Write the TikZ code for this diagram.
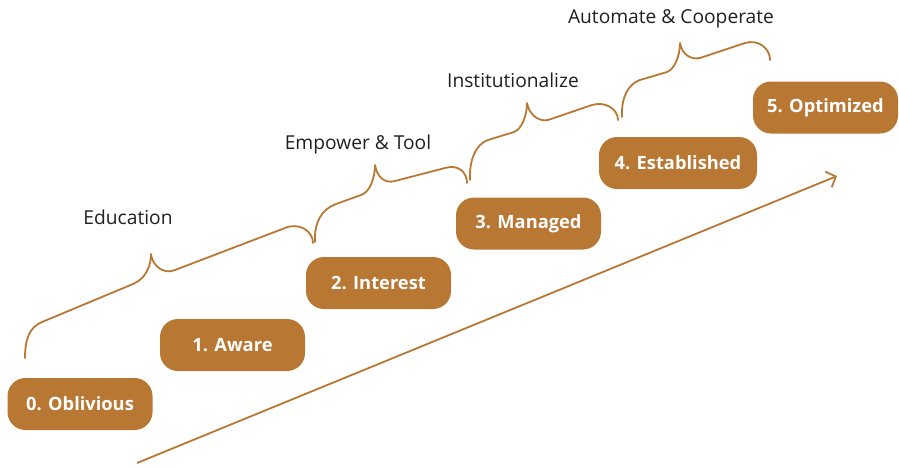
\documentclass[tikz,border=0pt]{standalone}
\usepackage{fontspec}
\setmainfont{Open Sans}
\usetikzlibrary{arrows.meta}
\definecolor{rust}{RGB}{184,119,51}
\definecolor{labelgray}{RGB}{35,31,32}
\tikzset{
  stage/.style={fill=rust, draw=none, rounded corners=18pt, minimum width=145pt, minimum height=52pt,
    text=white, font=\fontsize{18.3}{22}\selectfont\bfseries, inner sep=0pt},
  phase/.style={text=labelgray, font=\fontsize{19.2}{22}\selectfont, anchor=base, inner sep=0pt},
  bracecurve/.style={draw=rust, line width=1.8pt, line cap=round, line join=round},
  growth/.style={draw=rust, line width=1.8pt, -{Straight Barb[length=8pt,width=17pt,line width=1.8pt]}}
}
\begin{document}
\begin{tikzpicture}[x=1pt, y=-1pt]
\useasboundingbox (0,0) rectangle (899,467);
% stages
\node[stage] (s0) at (80,404) {0. Oblivious};
\node[stage] (s1) at (232.5,345) {1. Aware};
\node[stage] (s2) at (378.5,283) {2. Interest};
\node[stage] (s3) at (528.5,223.5) {3. Managed};
\node[stage, minimum width=158pt] (s4) at (678,163) {4. Established};
\node[stage] (s5) at (825.5,107.5) {5. Optimized};
% phase labels
\node[phase] (l1) at (128,224) {Education};
\node[phase] (l2) at (358,149) {Empower \& Tool};
\node[phase] (l3) at (513,87) {Institutionalize};
\node[phase] (l4) at (671,23) {Automate \& Cooperate};
% braces
\draw[bracecurve] (25,358) .. controls (25,338) and (30,327) .. (42,322) -- (133,284)
  .. controls (145,279) and (151,267) .. (151,254)
  .. controls (152,265) and (163,275) .. (175,270) -- (285,228)
  .. controls (299,222) and (313,231) .. (313,243);
\draw[bracecurve] (315,242) .. controls (314,222) and (322,209) .. (336,204) -- (361,195)
  .. controls (370,192) and (375,178) .. (375,165)
  .. controls (377,177) and (385,184) .. (395,181) -- (445,168)
  .. controls (458,164) and (467,172) .. (467,183);
\draw[bracecurve] (470,180) .. controls (469,160) and (476,144) .. (488,140) -- (514,132)
  .. controls (522,129) and (527,115) .. (527,103)
  .. controls (529,114) and (538,122) .. (548,120) -- (592,105)
  .. controls (605,101) and (618,109) .. (618,120);
\draw[bracecurve] (622,117) .. controls (621,98) and (628,84) .. (640,80) -- (667,72)
  .. controls (675,69) and (680,55) .. (680,43)
  .. controls (682,54) and (690,60) .. (700,58) -- (745,43)
  .. controls (758,39) and (770,48) .. (770,60);
% growth arrow
\coordinate (a0) at (137,463);
\coordinate (a1) at (837,176);
\draw[growth] (a0) -- (a1);
\end{tikzpicture}
\end{document}
